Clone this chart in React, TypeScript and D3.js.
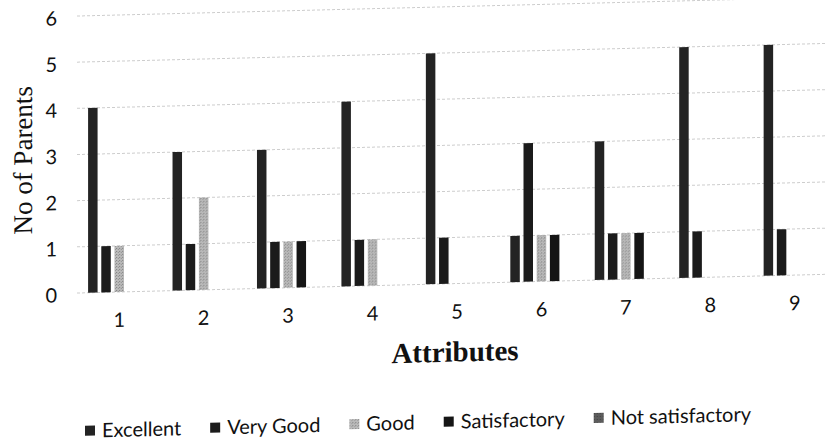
import * as React from 'react'
import * as d3 from 'd3'

const WIDTH = 827
const HEIGHT = 441
const PLOT_LEFT = 77
const PLOT_RIGHT = 837
const Y_ZERO = 293
const Y_TOP = 16
// the scanned page is slightly skewed, baseline rises to the right
const SKEW_DEG = -1.43

const CATEGORIES = ['1', '2', '3', '4', '5', '6', '7', '8', '9']
const SERIES = ['Excellent', 'Very Good', 'Good', 'Satisfactory', 'Not satisfactory']
const EXCELLENT = [4, 3, 3, 4, 5, 1, 3, 5, 5]
const VERY_GOOD = [1, 1, 1, 1, 1, 3, 1, 1, 1]
const GOOD = [1, 2, 1, 1, 0, 1, 1, 0, 0]
const SATISFACTORY = [0, 0, 1, 0, 0, 1, 1, 0, 0]
const NOT_SATISFACTORY = [0, 0, 0, 0, 0, 0, 0, 0, 0]
const Y_TICKS = [0, 1, 2, 3, 4, 5, 6]
const COLORS = ['#232323', '#1b1b1b', 'url(#goodFill)', '#151515', 'url(#notSatFill)']

const SERIES_VALUES = [EXCELLENT, VERY_GOOD, GOOD, SATISFACTORY, NOT_SATISFACTORY]

function drawChart(svgEl: SVGSVGElement) {
  const svg = d3.select(svgEl)
  svg.selectAll('*').remove()

  const defs = svg.append('defs')
  const good = defs
    .append('pattern')
    .attr('id', 'goodFill')
    .attr('width', 3)
    .attr('height', 3)
    .attr('patternUnits', 'userSpaceOnUse')
  good.append('rect').attr('width', 3).attr('height', 3).attr('fill', '#bababa')
  good.append('rect').attr('width', 1).attr('height', 1).attr('fill', '#808080')
  good.append('rect').attr('x', 2).attr('y', 1).attr('width', 1).attr('height', 1).attr('fill', '#929292')
  const notSat = defs
    .append('pattern')
    .attr('id', 'notSatFill')
    .attr('width', 3)
    .attr('height', 3)
    .attr('patternUnits', 'userSpaceOnUse')
  notSat.append('rect').attr('width', 3).attr('height', 3).attr('fill', '#5c5c5c')
  notSat.append('rect').attr('width', 1).attr('height', 1).attr('fill', '#3a3a3a')

  const root = svg
    .append('g')
    .attr('transform', `translate(${PLOT_LEFT},0) skewY(${SKEW_DEG}) translate(${-PLOT_LEFT},0)`)

  const x0 = d3.scaleBand<string>().domain(CATEGORIES).range([PLOT_LEFT, PLOT_RIGHT])
  const x1 = d3
    .scaleBand<string>()
    .domain(SERIES)
    .range([0, x0.bandwidth()])
    .paddingInner(0.28)
    .paddingOuter(0.84)
  const y = d3.scaleLinear().domain([0, 6]).range([Y_ZERO, Y_TOP])

  // gridlines
  root
    .append('g')
    .selectAll('line')
    .data(Y_TICKS)
    .join('line')
    .attr('x1', PLOT_LEFT)
    .attr('x2', PLOT_RIGHT + 10)
    .attr('y1', d => y(d))
    .attr('y2', d => y(d))
    .attr('stroke', '#cdcdcd')
    .attr('stroke-width', 1)
    .attr('stroke-dasharray', '3 2')

  // y tick labels
  root
    .append('g')
    .selectAll('text')
    .data(Y_TICKS)
    .join('text')
    .attr('x', 57)
    .attr('y', d => y(d) + 9)
    .attr('text-anchor', 'end')
    .attr('font-family', 'Lato, sans-serif')
    .attr('font-size', 20)
    .attr('fill', '#111')
    .text(d => d)

  // bars
  const groups = root
    .append('g')
    .selectAll('g')
    .data(CATEGORIES)
    .join('g')
    .attr('transform', d => `translate(${x0(d)},0)`)
  groups
    .selectAll('rect')
    .data((_, i) => SERIES.map((s, k) => ({ s, k, v: SERIES_VALUES[k][i] })).filter(d => d.v > 0))
    .join('rect')
    .attr('x', d => x1(d.s) as number)
    .attr('width', x1.bandwidth())
    .attr('y', d => y(d.v))
    .attr('height', d => y(0) - y(d.v))
    .attr('fill', d => COLORS[d.k])

  // x tick labels
  root
    .append('g')
    .selectAll('text')
    .data(CATEGORIES)
    .join('text')
    .attr('x', d => (x0(d) as number) + x0.bandwidth() / 2)
    .attr('y', 328)
    .attr('text-anchor', 'middle')
    .attr('font-family', 'Lato, sans-serif')
    .attr('font-size', 20)
    .attr('fill', '#111')
    .text(d => d)

  // axis titles
  root
    .append('text')
    .attr('transform', 'translate(32,159) rotate(-90)')
    .attr('text-anchor', 'middle')
    .attr('font-family', '"Liberation Serif", "Times New Roman", serif')
    .attr('font-size', 27)
    .attr('fill', '#111')
    .text('No of Parents')
  root
    .append('text')
    .attr('x', 455)
    .attr('y', 371)
    .attr('text-anchor', 'middle')
    .attr('font-family', '"Liberation Serif", "Times New Roman", serif')
    .attr('font-weight', 'bold')
    .attr('font-size', 29)
    .attr('fill', '#111')
    .text('Attributes')

  // legend
  const legend = root.append('g')
  let cursor = 85
  SERIES.forEach((s, k) => {
    const item = legend.append('g').attr('transform', `translate(${cursor},0)`)
    item
      .append('rect')
      .attr('x', 0)
      .attr('y', 426)
      .attr('width', 10)
      .attr('height', 10)
      .attr('fill', COLORS[k])
    const t = item
      .append('text')
      .attr('x', 17)
      .attr('y', 438)
      .attr('font-family', 'Lato, sans-serif')
      .attr('font-size', 20)
      .attr('fill', '#111')
      .text(s)
    const w = (t.node() as SVGTextElement).getComputedTextLength()
    cursor += 17 + w + 29
  })
}

export default function App() {
  const svgRef = React.useRef<SVGSVGElement>(null)
  React.useEffect(() => {
    if (svgRef.current) drawChart(svgRef.current)
  }, [])
  return (
    <svg
      ref={svgRef}
      width={WIDTH}
      height={HEIGHT}
      style={{ position: 'absolute', left: 0, top: 0, background: '#fff' }}
    />
  )
}
